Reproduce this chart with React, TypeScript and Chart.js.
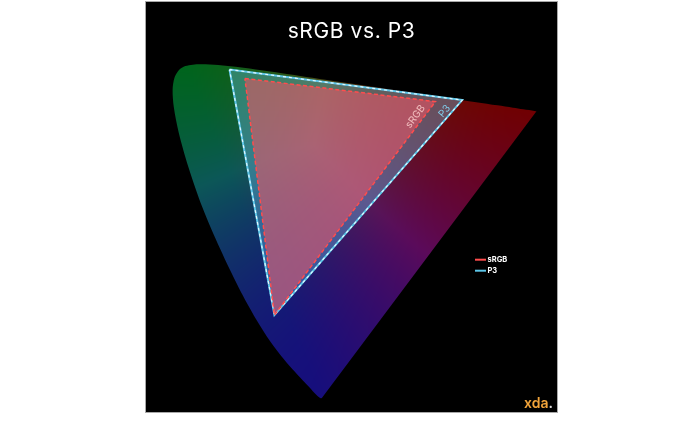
import React, { useEffect, useRef } from 'react';
import { Chart, registerables } from 'chart.js';

Chart.register(...registerables);

// ---- data (CIE 1976 u'v' chromaticity) ----
const TITLE = 'sRGB vs. P3';
const LOCUS_NM = [380, 400, 410, 420, 430, 435, 440, 445, 450, 455, 460, 465, 470, 475, 480, 485, 490, 495, 500, 505, 510, 515, 520, 525, 530, 540, 550, 560, 570, 580, 590, 600, 610, 620, 630, 640, 650, 660, 680, 700];
const LOCUS_U = [0.2568, 0.2557, 0.2545, 0.2522, 0.2461, 0.2411, 0.2347, 0.2266, 0.2161, 0.2033, 0.1877, 0.1690, 0.1441, 0.1147, 0.0828, 0.0521, 0.0282, 0.0119, 0.0035, 0.0014, 0.0046, 0.0123, 0.0231, 0.0360, 0.0501, 0.0792, 0.1127, 0.1531, 0.2026, 0.2623, 0.3315, 0.4035, 0.4692, 0.5203, 0.5565, 0.5830, 0.6005, 0.6109, 0.6199, 0.6234];
const LOCUS_V = [0.0166, 0.0159, 0.0159, 0.0169, 0.0226, 0.0279, 0.0350, 0.0437, 0.0549, 0.0688, 0.0871, 0.1119, 0.1510, 0.2044, 0.2708, 0.3427, 0.4117, 0.4698, 0.5131, 0.5432, 0.5638, 0.5770, 0.5837, 0.5861, 0.5868, 0.5856, 0.5821, 0.5766, 0.5694, 0.5604, 0.5501, 0.5393, 0.5296, 0.5219, 0.5165, 0.5125, 0.5099, 0.5084, 0.5070, 0.5065];
const SERIES = ['sRGB', 'P3'];
const SRGB_U = [0.1250, 0.4507, 0.1754];
const SRGB_V = [0.5625, 0.5229, 0.1579];
const P3_U = [0.0986, 0.4964, 0.1754];
const P3_V = [0.5777, 0.5255, 0.1579];
const U_RANGE = [0, 0.65];
const V_RANGE = [0, 0.68];
const ANCHOR_NM = [520, 420, 700]; // green, blue, red corners used for shading

// ---- styles ----
const ANCHOR_COLORS = [
  [0, 100, 28],
  [22, 14, 124],
  [112, 0, 2],
];
const ANCHOR_SHARPNESS = [1.8, 1, 1.1];
const SRGB_COLOR = '#ff4d4d';
const P3_COLOR = '#5cc6e8';

function closed(us: number[], vs: number[]) {
  const pts = us.map((u, i) => ({ x: u, y: vs[i] }));
  return [...pts, pts[0]];
}

const patternCache = new WeakMap<any, CanvasPattern>();
function locusPattern(chart: any) {
  const cached = patternCache.get(chart);
  if (cached) return cached;
  const width = chart.canvas.width;
  const height = chart.canvas.height;
  const xs = chart.scales.x;
  const ys = chart.scales.y;
  const P = ANCHOR_NM.map((nm) => {
    const i = LOCUS_NM.indexOf(nm);
    return [xs.getPixelForValue(LOCUS_U[i]), ys.getPixelForValue(LOCUS_V[i])];
  });
  const [x1, y1] = P[0];
  const [x2, y2] = P[1];
  const [x3, y3] = P[2];
  const det = (y2 - y3) * (x1 - x3) + (x3 - x2) * (y1 - y3);
  const maxes = ANCHOR_COLORS.map((c) => Math.max(...c));
  const off = document.createElement('canvas');
  off.width = width;
  off.height = height;
  const octx = off.getContext('2d')!;
  const img = octx.createImageData(width, height);
  const d = img.data;
  const w = [0, 0, 0];
  for (let py = 0; py < height; py++) {
    for (let px = 0; px < width; px++) {
      const l1 = ((y2 - y3) * (px - x3) + (x3 - x2) * (py - y3)) / det;
      const l2 = ((y3 - y1) * (px - x3) + (x1 - x3) * (py - y3)) / det;
      const l3 = 1 - l1 - l2;
      w[0] = Math.pow(Math.max(0, l1), ANCHOR_SHARPNESS[0]);
      w[1] = Math.pow(Math.max(0, l2), ANCHOR_SHARPNESS[1]);
      w[2] = Math.pow(Math.max(0, l3), ANCHOR_SHARPNESS[2]);
      const s = w[0] + w[1] + w[2] || 1;
      const rgb = [0, 0, 0];
      let target = 0;
      for (let a = 0; a < 3; a++) {
        const wa = w[a] / s;
        target += maxes[a] * wa;
        for (let c = 0; c < 3; c++) rgb[c] += ANCHOR_COLORS[a][c] * wa;
      }
      const m = Math.max(rgb[0], rgb[1], rgb[2]) || 1;
      const gain = Math.pow(target / m, 0.55);
      const k = (py * width + px) * 4;
      for (let c = 0; c < 3; c++) d[k + c] = Math.min(255, rgb[c] * gain);
      d[k + 3] = 255;
    }
  }
  octx.putImageData(img, 0, 0);
  const pat = chart.ctx.createPattern(off, 'no-repeat');
  patternCache.set(chart, pat);
  return pat;
}

function edgeLabel(ctx: CanvasRenderingContext2D, chart: any, us: number[], vs: number[], text: string, t: number, lift: number, color: string) {
  const xs = chart.scales.x;
  const ys = chart.scales.y;
  const rx = xs.getPixelForValue(us[1]);
  const ry = ys.getPixelForValue(vs[1]);
  const bx = xs.getPixelForValue(us[2]);
  const by = ys.getPixelForValue(vs[2]);
  const ex = rx + (bx - rx) * t;
  const ey = ry + (by - ry) * t;
  const ang = Math.atan2(ry - by, rx - bx);
  ctx.save();
  ctx.translate(ex, ey);
  ctx.rotate(ang);
  ctx.font = '400 10px Inter, "Noto Sans", sans-serif';
  ctx.fillStyle = color;
  ctx.textAlign = 'center';
  ctx.textBaseline = 'alphabetic';
  ctx.fillText(text, 0, -lift);
  ctx.restore();
}

const decorPlugin = {
  id: 'decor',
  afterDraw(chart: any) {
    const ctx: any = chart.ctx;
    ctx.save();
    // title
    ctx.font = '400 21px Inter, "Noto Sans", sans-serif';
    ctx.letterSpacing = '0.6px';
    ctx.fillStyle = '#ffffff';
    ctx.textAlign = 'center';
    ctx.textBaseline = 'alphabetic';
    ctx.fillText(TITLE, chart.width / 2, 36);
    ctx.letterSpacing = '0px';

    // edge labels
    edgeLabel(ctx, chart, SRGB_U, SRGB_V, SERIES[0], 0.09, 4, 'rgba(245,195,195,0.92)');
    edgeLabel(ctx, chart, P3_U, P3_V, SERIES[1], 0.07, 3, 'rgba(130,210,240,0.95)');

    // legend
    const colors = [SRGB_COLOR, P3_COLOR];
    const lx = 329;
    const ly = [257.7, 268.7];
    SERIES.forEach((name, i) => {
      ctx.strokeStyle = colors[i];
      ctx.lineWidth = 2;
      ctx.beginPath();
      ctx.moveTo(lx, ly[i]);
      ctx.lineTo(lx + 11, ly[i]);
      ctx.stroke();
      ctx.font = '700 7.5px Inter, "Noto Sans", sans-serif';
      ctx.fillStyle = '#ffffff';
      ctx.textAlign = 'left';
      ctx.textBaseline = 'middle';
      ctx.fillText(name, lx + 12.5, ly[i]);
    });

    // logo
    ctx.font = '600 14px Inter, "Noto Sans", sans-serif';
    ctx.textBaseline = 'alphabetic';
    ctx.textAlign = 'right';
    const dotW = ctx.measureText('.').width;
    ctx.fillStyle = '#d9d9d9';
    ctx.fillText('.', 407, 405.5);
    ctx.fillStyle = '#f0a33a';
    ctx.fillText('xda', 407 - dotW, 405.5);
    ctx.restore();
  },
};

export default function App() {
  const ref = useRef<HTMLCanvasElement>(null);
  useEffect(() => {
    const canvas = ref.current!;
    const chart = new Chart(canvas, {
      type: 'line',
      data: {
        datasets: [
          {
            label: SERIES[0],
            data: closed(SRGB_U, SRGB_V),
            borderColor: SRGB_COLOR,
            borderWidth: 1.5,
            borderDash: [4, 2.5],
            backgroundColor: 'rgba(240,84,100,0.55)',
            fill: 'shape',
            pointRadius: 0,
            order: 1,
          },
          {
            label: SERIES[1],
            data: closed(P3_U, P3_V),
            borderColor: P3_COLOR,
            borderWidth: 2,
            backgroundColor: 'rgba(105,200,245,0.36)',
            fill: 'shape',
            pointRadius: 0,
            order: 3,
          },
          {
            label: 'P3 dash',
            data: closed(P3_U, P3_V),
            borderColor: 'rgba(235,250,255,0.95)',
            borderWidth: 1.2,
            borderDash: [3, 3],
            fill: false,
            pointRadius: 0,
            order: 2,
          },
          {
            label: 'locus',
            data: closed(LOCUS_U, LOCUS_V).slice(0, LOCUS_U.length),
            borderColor: 'rgba(0,0,0,0)',
            borderWidth: 0,
            tension: 0.3,
            backgroundColor: (c: any) => (c.chart.chartArea ? locusPattern(c.chart) : 'rgba(0,0,0,0)'),
            fill: 'shape',
            pointRadius: 0,
            order: 4,
          },
        ],
      },
      options: {
        responsive: false,
        animation: false,
        devicePixelRatio: 1,
        events: [],
        layout: { padding: { left: 25.8, right: 4.95, top: 7.7, bottom: 4.5 } },
        scales: {
          x: { type: 'linear', min: U_RANGE[0], max: U_RANGE[1], display: false },
          y: { type: 'linear', min: V_RANGE[0], max: V_RANGE[1], display: false },
        },
        plugins: {
          legend: { display: false },
          title: { display: false },
          tooltip: { enabled: false },
        },
      },
      plugins: [decorPlugin],
    });
    return () => chart.destroy();
  }, []);

  return (
    <div style={{ position: 'absolute', left: 0, top: 0, width: 696, height: 423, background: '#fff' }}>
      <div style={{ position: 'absolute', left: 145, top: 1, width: 411, height: 410, border: '1px solid #a8a8a8', background: '#000' }}>
        <canvas ref={ref} width={411} height={410} style={{ display: 'block', width: 411, height: 410 }} />
      </div>
    </div>
  );
}
